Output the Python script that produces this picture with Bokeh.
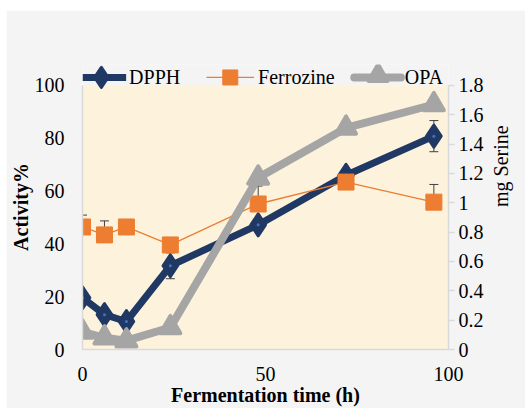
import math
from bokeh.plotting import figure
from bokeh.models import (Range1d, LinearAxis, FixedTicker, CustomJSTickFormatter,
                          Whisker, ColumnDataSource, TeeHead, BoxAnnotation)
from bokeh.core.properties import value
from bokeh.embed import file_html
from bokeh.resources import INLINE

# ---- data ----
time_h = [0, 6, 12, 24, 48, 72, 96]
dpph = [19.6, 13.2, 10.6, 31.7, 47.2, 66.0, 80.8]
dpph_err = [1.5, 1.2, 1.0, 4.9, 1.8, 1.5, 5.9]
ferrozine = [46.4, 43.4, 46.4, 39.6, 55.1, 63.4, 55.8]
ferrozine_err = [4.5, 5.3, 1.5, 1.5, 6.8, 1.5, 6.7]
opa = [0.12, 0.08, 0.06, 0.15, 1.17, 1.51, 1.67]

left_ticks = [0, 20, 40, 60, 80, 100]
right_ticks = [0, 0.2, 0.4, 0.6, 0.8, 1.0, 1.2, 1.4, 1.6, 1.8]
x_ticks = [0, 50, 100]
series_names = ["DPPH", "Ferrozine", "OPA"]

X_MIN, X_MAX = 0, 100
Y_MIN, Y_MAX = 0, 100
R_MAX = 1.8

NAVY = "#203864"
ORANGE = "#ED7D31"
GREY = "#A5A5A5"
AXIS = "#d9d9d9"
FONT = "Liberation Serif"
BORDER = "#f4f4f4"

# frame spans page y 64..350; plot area (0..100) spans 85..350
FRAME_TOP, AREA_TOP, FRAME_BOTTOM = 64, 85, 350
scale = (FRAME_BOTTOM - FRAME_TOP) / (FRAME_BOTTOM - AREA_TOP)
Y_TOP = Y_MAX * scale

p = figure(width=519, height=398, x_range=Range1d(X_MIN, X_MAX), y_range=Range1d(Y_MIN, Y_TOP),
           output_backend="svg", toolbar_location=None,
           min_border_left=76, min_border_right=74, min_border_top=FRAME_TOP - 10,
           min_border_bottom=58)
p.margin = (10, 0, 0, 6)
p.extra_y_ranges = {"right": Range1d(0, R_MAX * scale),
                    "py": Range1d(FRAME_BOTTOM, FRAME_TOP)}
p.extra_x_ranges = {"px": Range1d(82, 451)}

p.border_fill_color = BORDER
p.background_fill_color = BORDER
p.outline_line_color = None
p.grid.visible = False

# plot area
p.add_layout(BoxAnnotation(left=X_MIN, right=X_MAX, bottom=Y_MIN, top=Y_MAX,
                           fill_color="#fdf3dc", fill_alpha=1, line_color=None,
                           level="underlay"))

p.xaxis.ticker = FixedTicker(ticks=x_ticks)
p.yaxis.ticker = FixedTicker(ticks=left_ticks)
p.yaxis.bounds = (Y_MIN, Y_MAX)
for ax in (p.xaxis[0], p.yaxis[0]):
    ax.axis_line_color = AXIS
    ax.axis_line_width = 1.5
    ax.major_tick_line_color = None
    ax.minor_tick_line_color = None
    ax.major_label_text_font = FONT
    ax.major_label_text_font_size = "20px"
    ax.major_label_text_color = "black"
    ax.axis_label_text_font = FONT
    ax.axis_label_text_font_size = "20px"
    ax.axis_label_text_font_style = "bold"
    ax.axis_label_text_color = "black"
    ax.axis_label_standoff = 0
p.xaxis.axis_label = "Fermentation time (h)"
p.xaxis.major_label_standoff = 11
p.yaxis.axis_label = "Activity%"
p.yaxis.major_label_standoff = 12

ry = LinearAxis(y_range_name="right", ticker=FixedTicker(ticks=right_ticks), bounds=(0, R_MAX),
                formatter=CustomJSTickFormatter(code="return tick.toFixed(1).replace(/\\.0$/, '');"))
ry.axis_line_color = AXIS
ry.axis_line_width = 1.5
ry.major_tick_line_color = AXIS
ry.major_tick_line_width = 1.5
ry.major_tick_in = 0
ry.major_tick_out = 6
ry.minor_tick_line_color = None
ry.major_label_standoff = 4
ry.major_label_text_font = FONT
ry.major_label_text_font_size = "20px"
ry.major_label_text_color = "black"
ry.axis_label = "mg Serine"
ry.axis_label_text_font = FONT
ry.axis_label_text_font_size = "20px"
ry.axis_label_text_font_style = "normal"
ry.axis_label_text_color = "black"
ry.axis_label_standoff = 14
ry.axis_label_orientation = math.pi / 2
p.add_layout(ry, "right")

# error bars
dsrc = ColumnDataSource(dict(x=time_h, lo=[v - e for v, e in zip(dpph, dpph_err)],
                             hi=[v + e for v, e in zip(dpph, dpph_err)]))
fsrc = ColumnDataSource(dict(x=time_h, lo=ferrozine,
                             hi=[v + e for v, e in zip(ferrozine, ferrozine_err)]))
p.add_layout(Whisker(source=dsrc, base="x", lower="lo", upper="hi", level="underlay",
                     line_color="#404040", line_width=1,
                     upper_head=TeeHead(size=9, line_color="#404040", line_width=1),
                     lower_head=TeeHead(size=9, line_color="#404040", line_width=1)))
p.add_layout(Whisker(source=fsrc, base="x", lower="lo", upper="hi", level="underlay",
                     line_color="#404040", line_width=1,
                     upper_head=TeeHead(size=9, line_color="#404040", line_width=1),
                     lower_head=TeeHead(size=0.1, line_alpha=0)))

# DPPH
p.line(time_h, dpph, line_color=NAVY, line_width=7, line_join="round")
p.scatter(time_h, dpph, marker="diamond", size=22, fill_color=NAVY,
          line_color=NAVY, line_width=3, line_join="round")
p.scatter(time_h, dpph, marker="circle", size=3, fill_color="#4472C4", line_color=None)

# Ferrozine
p.line(time_h, ferrozine, line_color=ORANGE, line_width=1.3)
p.scatter(time_h, ferrozine, marker="square", size=16, fill_color=ORANGE,
          line_color=ORANGE, line_width=1)

# OPA (secondary axis)
p.line(time_h, opa, line_color=GREY, line_width=8, line_join="round", y_range_name="right")
p.scatter(time_h, opa, marker="triangle", size=20, fill_color=GREY, line_color=GREY,
          line_width=4, line_join="round", y_range_name="right")

# legend (page-pixel coordinates inside the top strip of the frame)
LY = 77
kw = dict(x_range_name="px", y_range_name="py")
p.segment(x0=[82], y0=[LY], x1=[126], y1=[LY], line_color=NAVY, line_width=7, **kw)
p.scatter(x=[101], y=[LY], marker="diamond", size=20, fill_color=NAVY, line_color=NAVY,
          line_width=3, line_join="round", **kw)
p.segment(x0=[207], y0=[LY], x1=[255], y1=[LY], line_color=ORANGE, line_width=1.3, **kw)
p.scatter(x=[231], y=[LY], marker="square", size=15, fill_color=ORANGE, line_color=ORANGE, **kw)
p.segment(x0=[356], y0=[LY], x1=[403], y1=[LY], line_color=GREY, line_width=8,
          line_cap="round", **kw)
p.scatter(x=[380], y=[LY - 2], marker="triangle", size=19, fill_color=GREY, line_color=GREY,
          line_width=4, line_join="round", **kw)
p.text(x=[129, 259, 407], y=[LY] * 3, text=series_names, text_font=value(FONT),
       text_font_size="20px", text_baseline="middle", text_align="left", text_color="black", **kw)

open("out.html", "w").write(file_html(p, INLINE))
